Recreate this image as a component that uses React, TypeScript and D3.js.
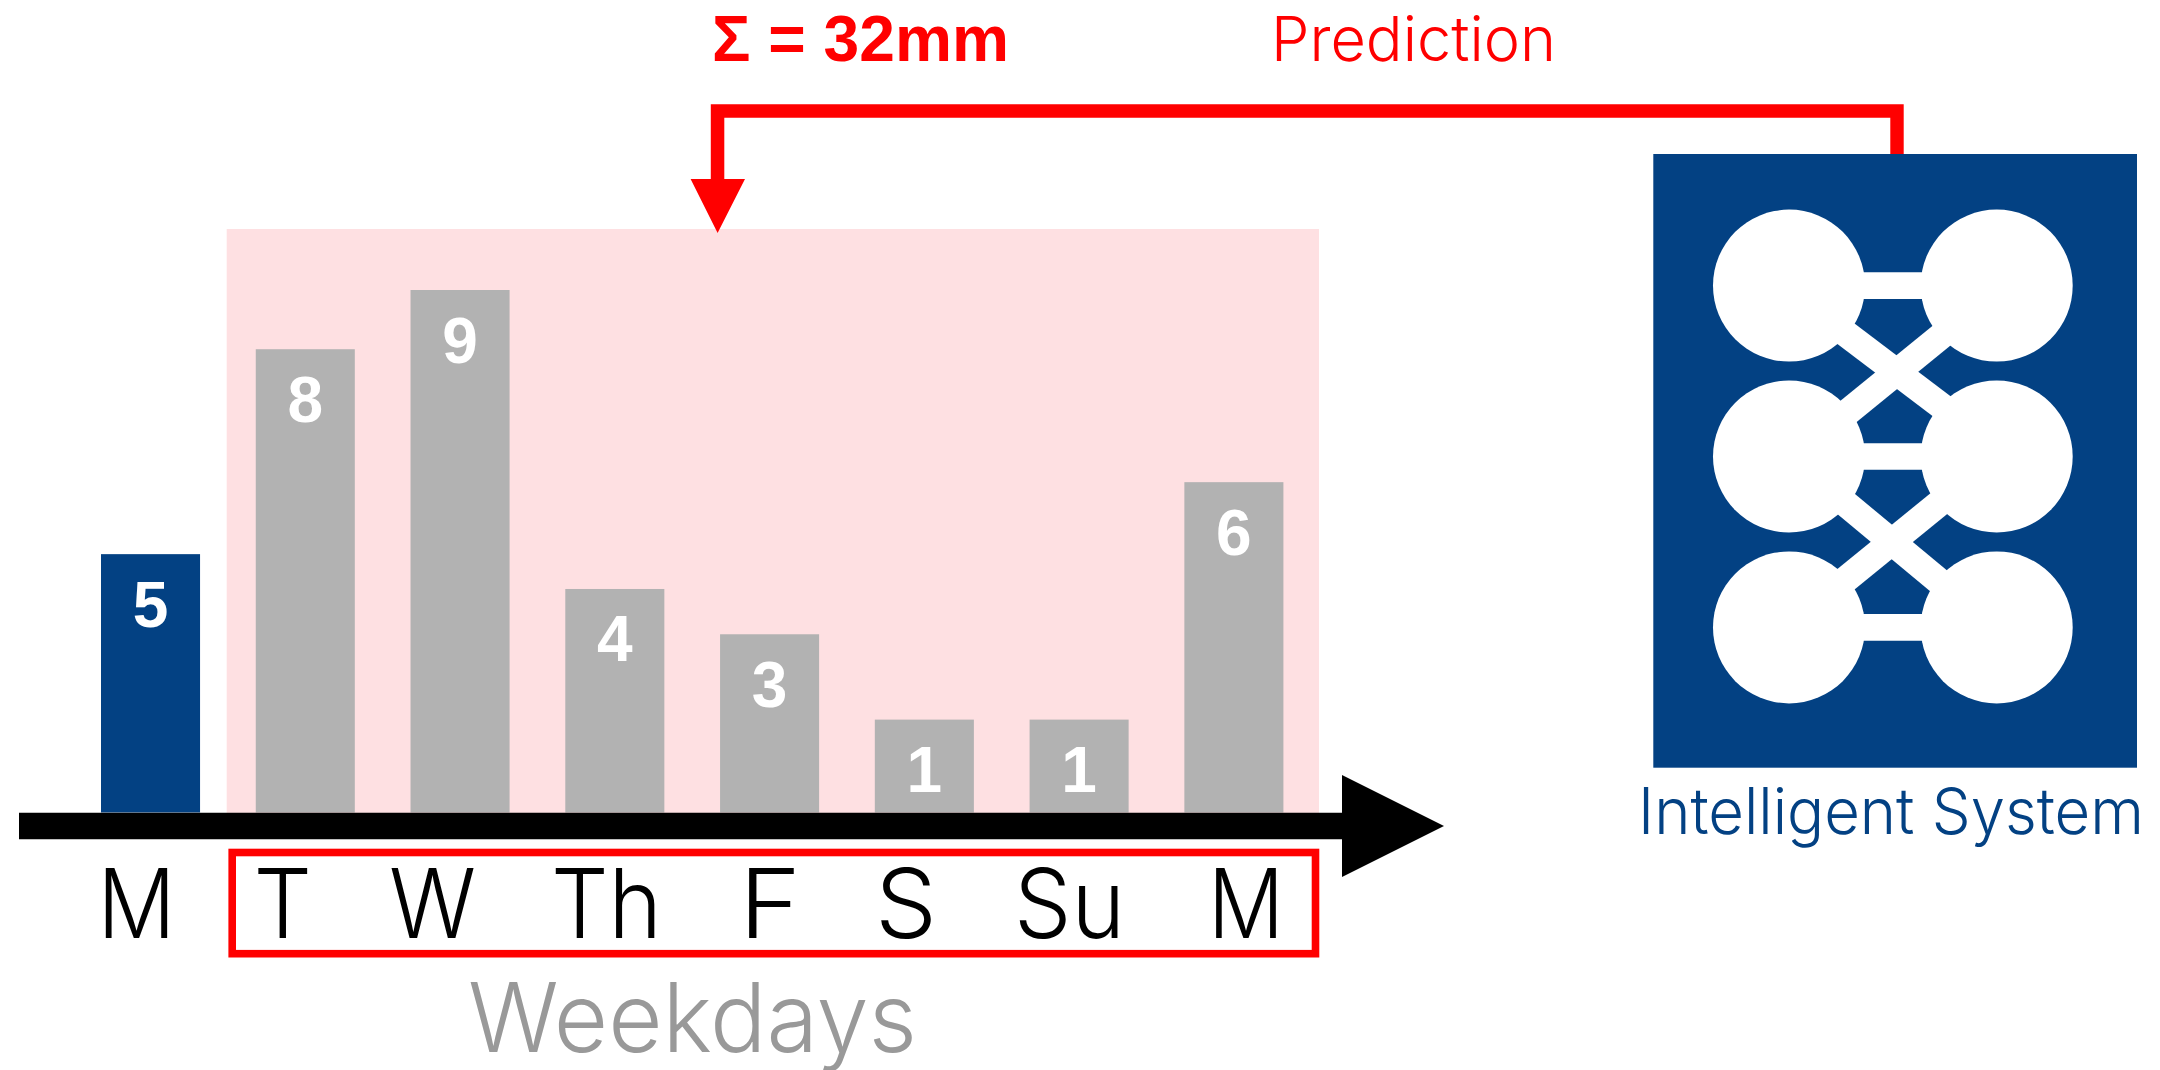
import React, { useLayoutEffect, useRef } from "react";
import * as d3 from "d3";

const barKeys = ["m0", "t", "w", "th", "f", "s", "su", "m1"];
const barLabels = [5, 8, 9, 4, 3, 1, 1, 6];
const barHeights = [4.45, 7.98, 9, 3.85, 3.07, 1.6, 1.6, 5.69];
const barColors = ["#034183", "#b2b2b2", "#b2b2b2", "#b2b2b2", "#b2b2b2", "#b2b2b2", "#b2b2b2", "#b2b2b2"];
const dayLabels = ["M", "T", "W", "Th", "F", "S", "Su", "M"];
const dayStarts = [97.4, 253.6, 389, 551, 739, 875, 1014, 1208];
const dayWidths = [78, 58.5, 87, 111, 62, 62, 111, 76];
const nodeCols = [0, 1];
const nodeRows = [0, 1, 2];
const horizontalRows = [0, 1, 2];
const crossEdges = [
  [0.03, 0.95],
  [1.02, 0.03],
  [1.0, 2.01],
  [1.99, 1.0],
];

const BLUE = "#034183";
const RED = "#ff0000";
const PINK = "#fee0e2";
const LIGHT = "Inter, 'Noto Sans', sans-serif";
const BOLD = "'Liberation Sans', Arial, sans-serif";

const x = d3.scaleBand<string>().domain(barKeys).range([101, 1283.4]).paddingInner(0.36).paddingOuter(0);
const y = d3.scaleLinear().domain([0, 9]).range([812.5, 290]);
const colX = d3.scaleLinear().domain([0, 1]).range([1789, 1996.7]);
const rowY = d3.scaleLinear().domain([0, 2]).range([285.6, 627.4]);
const line = d3.line();

function FitText({ left, base, width, size, fill, weight = 300, family = LIGHT, children }: any) {
  const ref = useRef<SVGTextElement>(null);
  useLayoutEffect(() => {
    const el = ref.current;
    if (!el) return;
    const natural = el.getComputedTextLength();
    el.setAttribute("transform", `translate(${left},${base}) scale(${width / natural},1)`);
  }, [left, base, width]);
  return (
    <text ref={ref} transform={`translate(${left},${base})`} fontFamily={family} fontWeight={weight} fontSize={size} fill={fill}>
      {children}
    </text>
  );
}

export default function App() {
  const axisArrow = line([
    [19, 812.7], [1342, 812.7], [1342, 775], [1444, 826], [1342, 877], [1342, 839.3], [19, 839.3],
  ]) + "Z";
  const predictionArrow = line([
    [1890.3, 154], [1890.3, 117.7], [724.3, 117.7], [724.3, 179], [745, 179], [717.6, 233], [690.6, 179],
    [710.8, 179], [710.8, 104.3], [1903.7, 104.3], [1903.7, 154],
  ]) + "Z";

  return (
    <svg width={2160} height={1070} style={{ position: "absolute", left: 0, top: 0, display: "block", background: "#fff" }}>
      <rect x={226.7} y={229} width={1092.3} height={590} fill={PINK} />
      {barKeys.map((k, i) => (
        <rect key={k} x={x(k)} y={y(barHeights[i])} width={x.bandwidth()} height={y(0) - y(barHeights[i])} fill={barColors[i]} />
      ))}
      {barKeys.map((k, i) => (
        <text key={k} x={x(k)! + x.bandwidth() / 2} y={y(barHeights[i]) + 72.5} textAnchor="middle"
          fontFamily={BOLD} fontWeight={700} fontSize={64} fill="#fff">{barLabels[i]}</text>
      ))}
      <path d={axisArrow} fill="#000" />
      <rect x={232.2} y={852.5} width={1083.3} height={101.2} fill="none" stroke={RED} strokeWidth={7.6} />
      {dayLabels.map((d, i) => (
        <FitText key={i} left={dayStarts[i]} base={938} width={dayWidths[i]} size={96} fill="#000">{d}</FitText>
      ))}
      <FitText left={468} base={1052} width={449} size={96} fill="#999">Weekdays</FitText>

      <path d={predictionArrow} fill={RED} />
      <FitText left={712} base={60.7} width={297} size={64} fill={RED} weight={700} family={BOLD}>Σ = 32mm</FitText>
      <FitText left={1271} base={60.7} width={285} size={62} fill={RED}>Prediction</FitText>

      <rect x={1653.3} y={154} width={483.7} height={613.7} fill={BLUE} />
      {nodeCols.flatMap((c) => nodeRows.map((r) => (
        <circle key={`${c}-${r}`} cx={colX(c)} cy={rowY(r)} r={76} fill="#fff" />
      )))}
      {horizontalRows.map((r) => (
        <line key={r} x1={colX(0)} x2={colX(1)} y1={rowY(r)} y2={rowY(r)} stroke="#fff" strokeWidth={26.7} />
      ))}
      {crossEdges.map(([a, b], i) => (
        <line key={i} x1={colX(0)} x2={colX(1)} y1={rowY(a)} y2={rowY(b)} stroke="#fff" strokeWidth={26.7} />
      ))}
      <FitText left={1638} base={834} width={506} size={64} fill={BLUE}>Intelligent System</FitText>
    </svg>
  );
}
